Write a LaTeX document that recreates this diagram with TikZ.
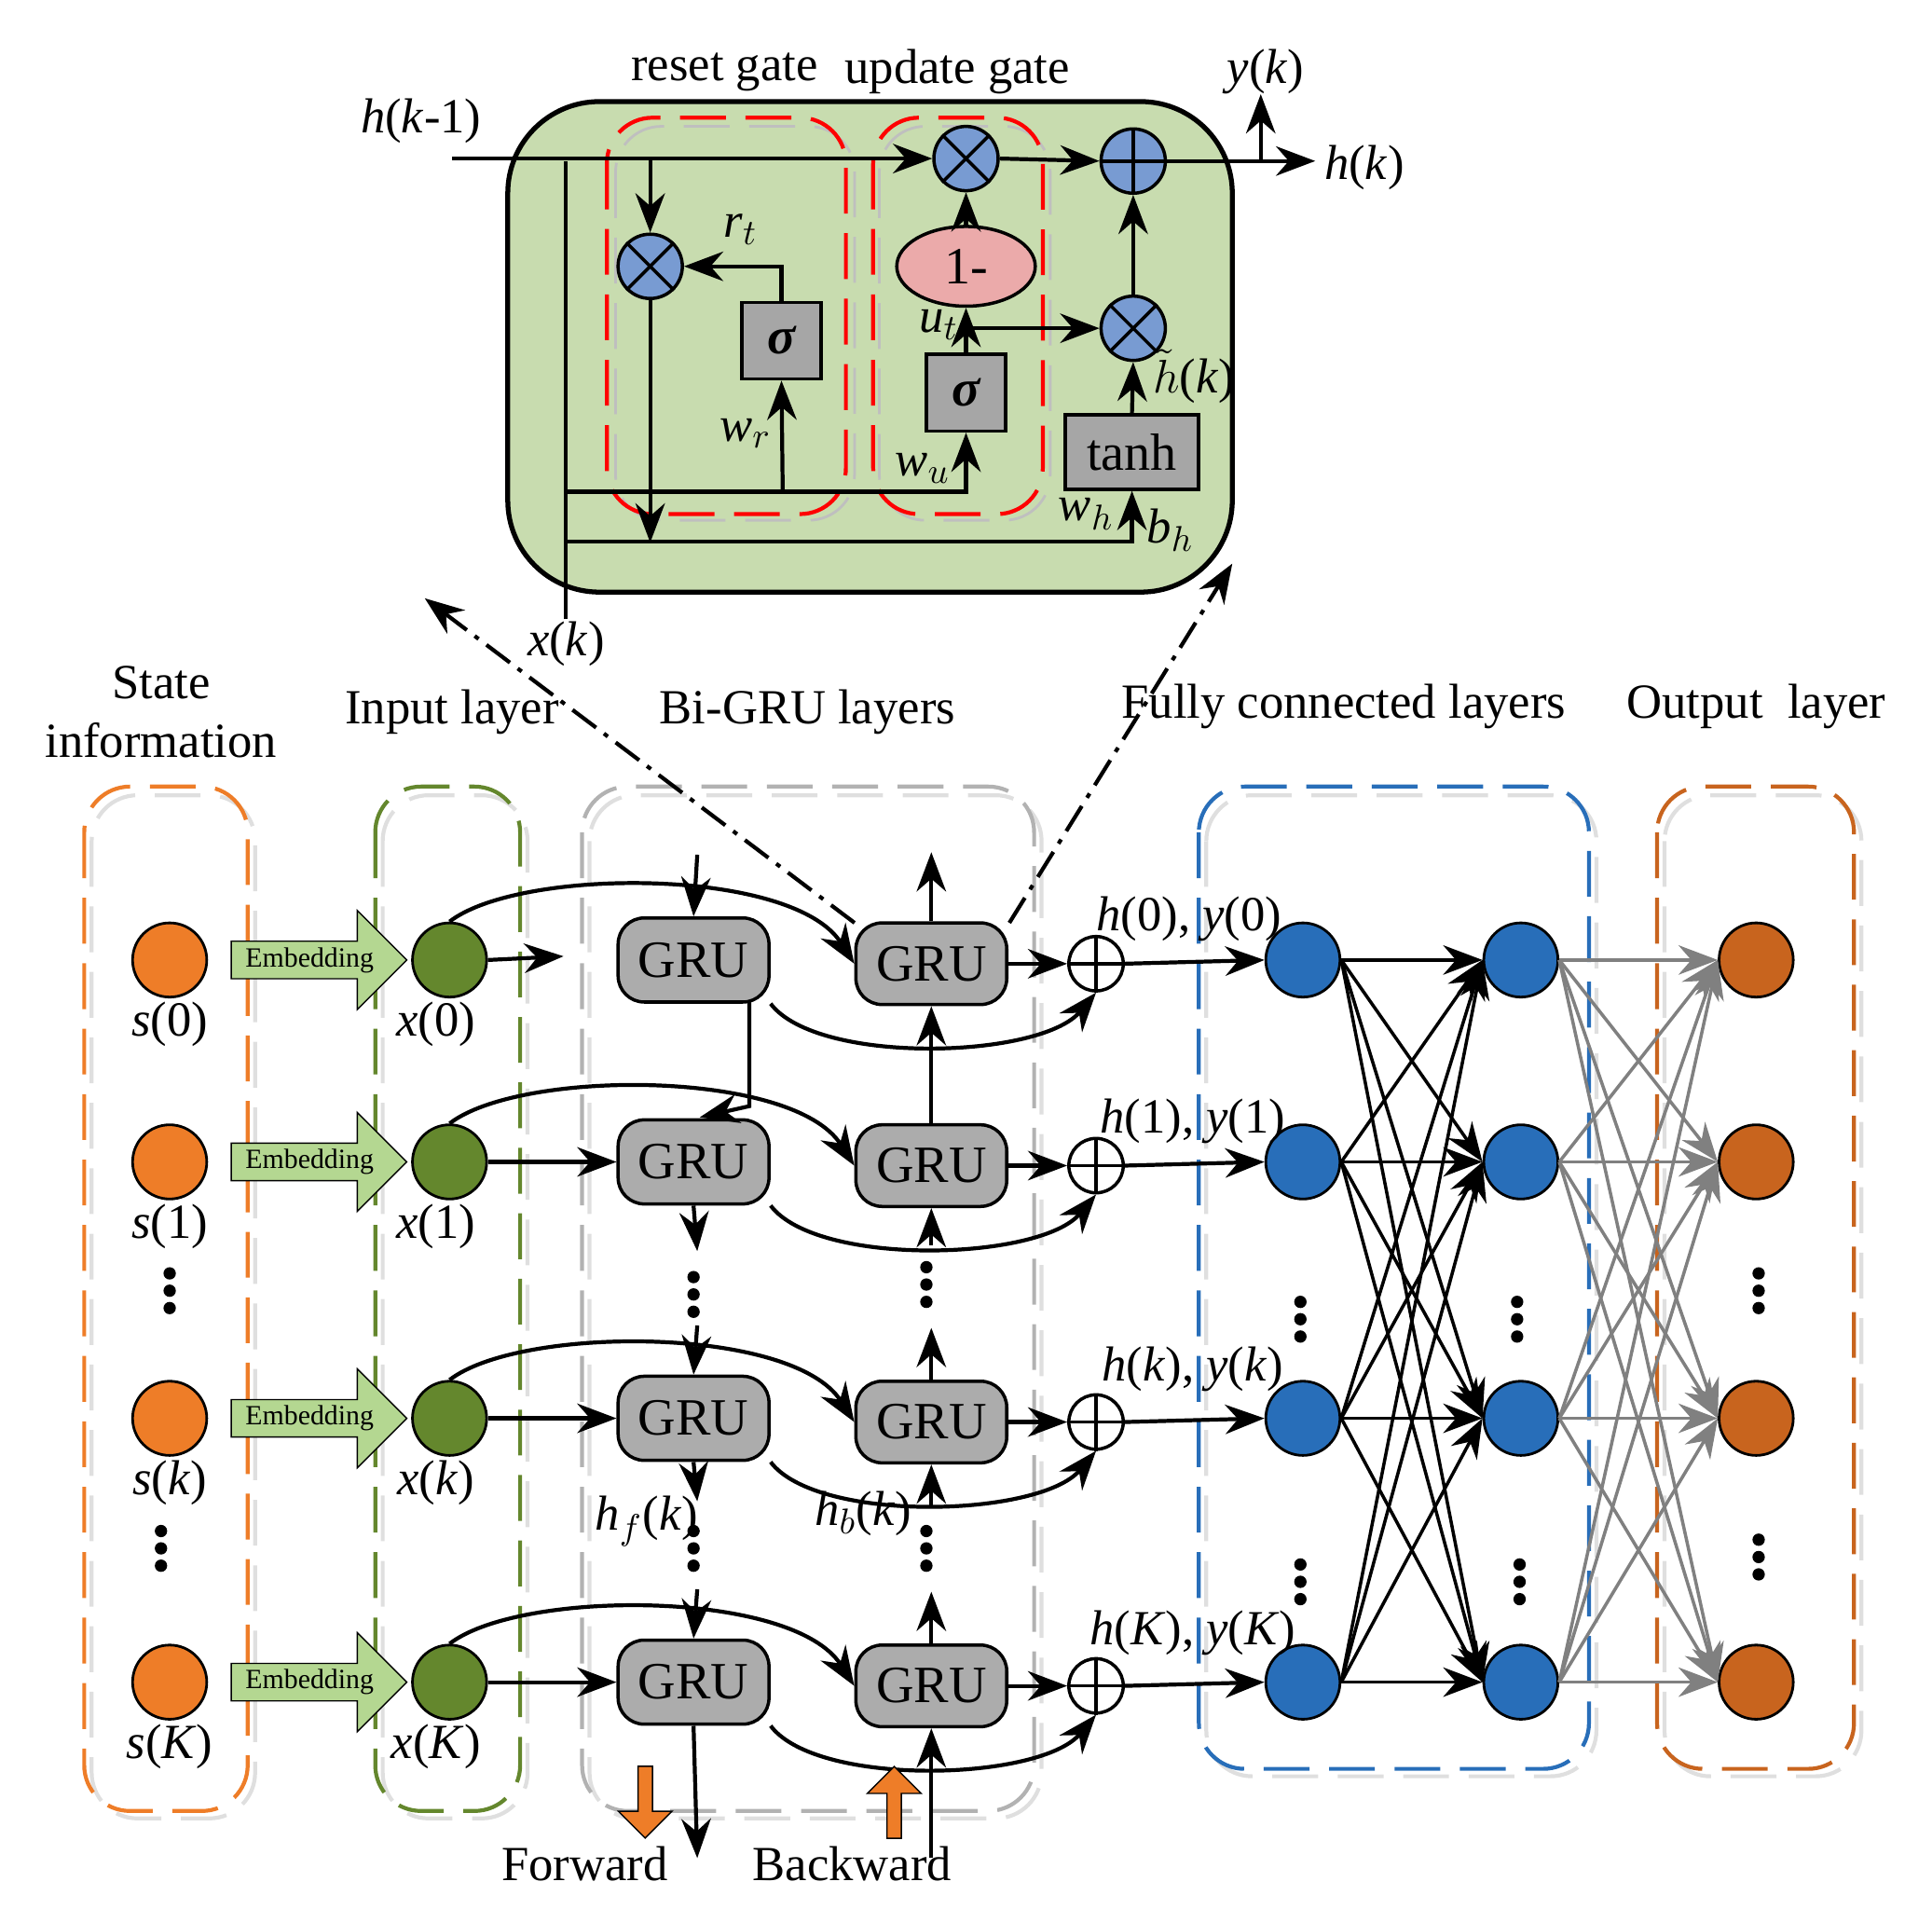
\documentclass[tikz,border=0pt]{standalone}
\usepackage{fontspec}
\setmainfont{Liberation Serif}
\usetikzlibrary{arrows.meta,shapes.geometric,shapes.arrows,calc}
\definecolor{gbox}{RGB}{200,220,175}
\definecolor{bluec}{RGB}{120,155,210}
\definecolor{sorange}{RGB}{238,125,40}
\definecolor{xgreen}{RGB}{100,135,45}
\definecolor{fcblue}{RGB}{40,110,185}
\definecolor{outc}{RGB}{200,100,30}
\definecolor{embg}{RGB}{180,215,145}
\definecolor{pinkc}{RGB}{235,170,170}
\newcommand{\iv}[1]{\textit{#1}}
\begin{document}
\begin{tikzpicture}[x=0.0133cm,y=-0.0133cm,
 >={Stealth[length=12pt,width=9pt]},
 every node/.style={font=\fontsize{15}{17}\selectfont},
 lbl/.style={font=\fontsize{15}{17}\selectfont},
 hd/.style={font=\fontsize{15}{18}\selectfont,align=center},
 ln/.style={line width=1.2pt},
 mult/.style={circle,draw,fill=bluec,minimum size=52*0.378pt,inner sep=0,line width=1pt},
 sig/.style={draw,fill=gray!70,line width=1pt,minimum width=64*0.378pt,minimum height=62*0.378pt,font=\fontsize{16}{18}\selectfont\bfseries\itshape},
 gru/.style={draw,fill=gray!65,rounded corners=8pt,line width=1pt,minimum width=122*0.378pt,minimum height=68*0.378pt,font=\fontsize{16}{18}\selectfont},
 dot/.style={circle,draw,line width=0.8pt,minimum size=60*0.378pt,inner sep=0},
 plusn/.style={circle,draw,fill=white,line width=1pt,minimum size=44*0.378pt,inner sep=0},
 emb/.style={single arrow,draw,fill=embg,minimum height=142*0.378pt,minimum width=80*0.378pt,single arrow head extend=22*0.378pt,inner sep=1pt,font=\fontsize{8.5}{9}\selectfont},
 bx/.style={dashed,line width=1.2pt,rounded corners=14pt,dash pattern=on 14pt off 6pt},
 dd/.style={line width=1.2pt,dash pattern=on 9pt off 3pt on 1.5pt off 3pt}
]
\useasboundingbox (0,0) rectangle (1560,1552);
%%% top cell
\draw[fill=gbox,line width=1.5pt,rounded corners=28pt] (410,82) rectangle (995,478);
\draw[gray!50,bx,line width=0.8pt] (497,102) rectangle (690,420);
\draw[gray!50,bx,line width=0.8pt] (710,102) rectangle (848,420);
\draw[red,bx] (490,95) rectangle (683,415);
\draw[red,bx] (705,95) rectangle (842,415);
\node[hd] at (585,58) {reset gate};
\node[hd] at (773,58) {update gate};
\node[mult] (m1) at (780,128) {};
\node[mult] (m2) at (525,215) {};
\node[mult] (m3) at (915,265) {};
\node[mult] (pl) at (915,130) {};
\foreach \n in {m1,m2,m3}{\draw[line width=1pt] (\n.45)--(\n.225) (\n.135)--(\n.315);}
\draw[line width=1pt] (pl.north)--(pl.south) (pl.west)--(pl.east);
\node[sig] (s1) at (631,275) {σ};
\node[sig] (s2) at (780,317) {σ};
\node[draw,fill=gray!70,line width=1pt,minimum width=108*0.378pt,minimum height=60*0.378pt,font=\fontsize{16}{18}\selectfont] (th) at (914,365) {tanh};
\node[ellipse,draw,fill=pinkc,line width=1pt,minimum width=112*0.378pt,minimum height=50*0.378pt,font=\fontsize{16}{18}\selectfont] (om) at (780,215) {1-};
\node[lbl] at (340,98) {\iv{h}(\iv{k}-1)};
\coordinate (hin) at (365,128);
\draw[ln,->] (hin)--(m1.west);
\draw[ln,->] (525,128)--(m2.north);
\draw[ln,->] (m2.south)--(525,438);
\draw[ln,->] (m1.east)--(pl.west);
\coordinate (hout) at (1062,130);
\draw[ln,->] (pl.east)--(hout);
\node[lbl,anchor=west] at (1060,135) {\iv{h}(\iv{k})};
\coordinate (yk) at (1018,76);
\draw[ln,->] (1018,130)--(yk);
\node[lbl] at (1022,58) {\iv{y}(\iv{k})};
\draw[ln,->] (s1.north)|-(m2.east);
\node[lbl] at (598,185) {\iv{r}$_t$};
\draw[ln,->] (632,397)--(s1.south);
\node[lbl] at (602,350) {\iv{w}$_r$};
\coordinate (xk) at (457,500);
\draw[ln] (xk)--(457,130);
\draw[ln,->] (457,397)-|(s2.south);
\draw[ln,->] (457,437)-|(th.south);
\node[lbl] at (745,378) {\iv{w}$_u$};
\node[lbl] at (877,415) {\iv{w}$_h$};
\node[lbl] at (945,428) {\iv{b}$_h$};
\draw[ln,->] (om.north)--(m1.south);
\draw[ln,->] (s2.north)--(om.south);
\draw[ln,->] (780,265)--(m3.west);
\node[lbl] at (758,262) {\iv{u}$_t$};
\draw[ln,->] (th.north)--(m3.south);
\draw[ln,->] (m3.north)--(pl.south);
\node[lbl] at (964,304) {$\tilde{h}$(\iv{k})};
\node[lbl] at (457,520) {\iv{x}(\iv{k})};
%%% headers
\node[hd] at (130,575) {State\\information};
\node[hd] at (365,575) {Input layer};
\node[hd] at (652,575) {Bi-GRU layers};
\node[hd] at (1085,570) {Fully connected layers};
\node[hd] at (1418,570) {Output\ \ layer};
%%% dashed boxes
\draw[bx,gray!25] (74,642) rectangle (206,1468);
\draw[bx,sorange] (68,635) rectangle (200,1462);
\draw[bx,gray!25] (309,642) rectangle (426,1468);
\draw[bx,xgreen] (303,635) rectangle (420,1462);
\draw[bx,gray!25] (476,642) rectangle (841,1468);
\draw[bx,gray!60] (470,635) rectangle (835,1462);
\draw[bx,gray!25] (974,642) rectangle (1289,1434);
\draw[bx,fcblue] (968,635) rectangle (1283,1428);
\draw[bx,gray!25] (1344,642) rectangle (1503,1434);
\draw[bx,outc] (1338,635) rectangle (1497,1428);
%%% rows
\foreach \i/\y/\t in {0/775/0,1/938/1,2/1145/\iv{k},3/1358/\iv{K}}{
 \node[dot,fill=sorange] (s\i) at (137,\y) {};
 \node[lbl] at (137,\y+52) {\iv{s}(\t)};
 \node[emb] (e\i) at (250,\y) {Embedding};
 \node[dot,fill=xgreen] (x\i) at (363,\y) {};
 \node[lbl] at (352,\y+52) {\iv{x}(\t)};
 \node[gru] (f\i) at (560,\y) {GRU};
 \node[gru,minimum height=66*0.378pt] (b\i) at (752,\y+3) {GRU};
 \node[plusn] (p\i) at (885,\y+3) {};
 \draw[line width=1pt] (p\i.north)--(p\i.south) (p\i.west)--(p\i.east);
 \node[dot,fill=fcblue] (c\i) at (1052,\y) {};
 \node[dot,fill=fcblue] (d\i) at (1228,\y) {};
 \node[dot,fill=outc] (o\i) at (1418,\y) {};
 \draw[ln,->] (x\i.north) .. controls (420,\y-75) and (640,\y-75) .. (b\i.west);
 \draw[ln,->] (f\i.south east) .. controls (660,\y+85) and (840,\y+80) .. (p\i.south);
 \draw[ln,->] (b\i.east)--(p\i.west);
 \draw[ln,->] (p\i.east)--(c\i.west);
}
\node[lbl] at (960,742) {\iv{h}(0), \iv{y}(0)};
\node[lbl] at (963,905) {\iv{h}(1), \iv{y}(1)};
\node[lbl] at (963,1105) {\iv{h}(\iv{k}), \iv{y}(\iv{k})};
\node[lbl] at (963,1318) {\iv{h}(\iv{K}), \iv{y}(\iv{K})};
\coordinate (xa) at (455,772);
\draw[ln,->] (x0.east)--(xa);
\foreach \i in {1,2,3}{\draw[ln,->] (x\i.east)--(f\i.west);}
\foreach \i in {0,1,2,3}{\foreach \j in {0,1,2,3}{
 \draw[line width=1pt,->] (c\i.east)--(d\j.west);
 \draw[line width=1pt,gray,->] (d\i.east)--(o\j.west);}}
%% forward chain
\coordinate (fa) at (563,690);
\draw[ln,->] (fa)--(f0.north);
\draw[ln,->] (605,808)--(605,893)--(565,902);
\coordinate (f1d) at (563,1010);
\draw[ln,->] (f1.south)--(f1d);
\coordinate (f2u) at (563,1070);
\draw[ln,->] (f2u)--(f2.north);
\coordinate (f2d) at (563,1212);
\draw[ln,->] (f2.south)--(f2d);
\coordinate (f3u) at (563,1283);
\draw[ln,->] (f3u)--(f3.north);
\coordinate (fe) at (563,1500);
\draw[ln,->] (f3.south)--(fe);
%% backward chain
\coordinate (ba) at (752,688);
\draw[ln,->] (b0.north)--(ba);
\draw[ln,->] (b1.north)--(b0.south);
\coordinate (b1d) at (752,1005);
\draw[ln,->] (b1d)--(b1.south);
\coordinate (b2u) at (752,1072);
\draw[ln,->] (b2.north)--(b2u);
\coordinate (b2d) at (752,1215);
\draw[ln,->] (b2d)--(b2.south);
\coordinate (b3u) at (752,1285);
\draw[ln,->] (b3.north)--(b3u);
\coordinate (be) at (752,1500);
\draw[ln,->] (be)--(b3.south);
\node[lbl] at (522,1228) {\iv{h}$_f$(\iv{k})};
\node[lbl] at (697,1222) {\iv{h}$_b$(\iv{k})};
%% dots
\foreach \px/\py in {137/1042,130/1250,560/1045,748/1037,560/1250,748/1250,1050/1065,1050/1277,1225/1065,1227/1277,1420/1042,1420/1257}{
 \foreach \d in {-14,0,14}{\fill (\px,\py+\d) circle (5*0.378pt);}}
%% forward/backward arrows
\node[single arrow,draw,fill=sorange,shape border rotate=270,minimum height=58*0.378pt,minimum width=36*0.378pt,single arrow head extend=6pt,inner sep=2pt] (fw) at (521,1452) {};
\node[single arrow,draw,fill=sorange,shape border rotate=90,minimum height=58*0.378pt,minimum width=36*0.378pt,single arrow head extend=6pt,inner sep=2pt] (bw) at (722,1458) {};
\node[hd] at (472,1505) {Forward};
\node[hd] at (688,1505) {Backward};
%% dash-dot
\coordinate (t1) at (343,483);
\coordinate (t2) at (995,455);
\draw[dd,->] (690,745)--(t1);
\draw[dd,->] (815,745)--(t2);
\end{tikzpicture}
\end{document}
